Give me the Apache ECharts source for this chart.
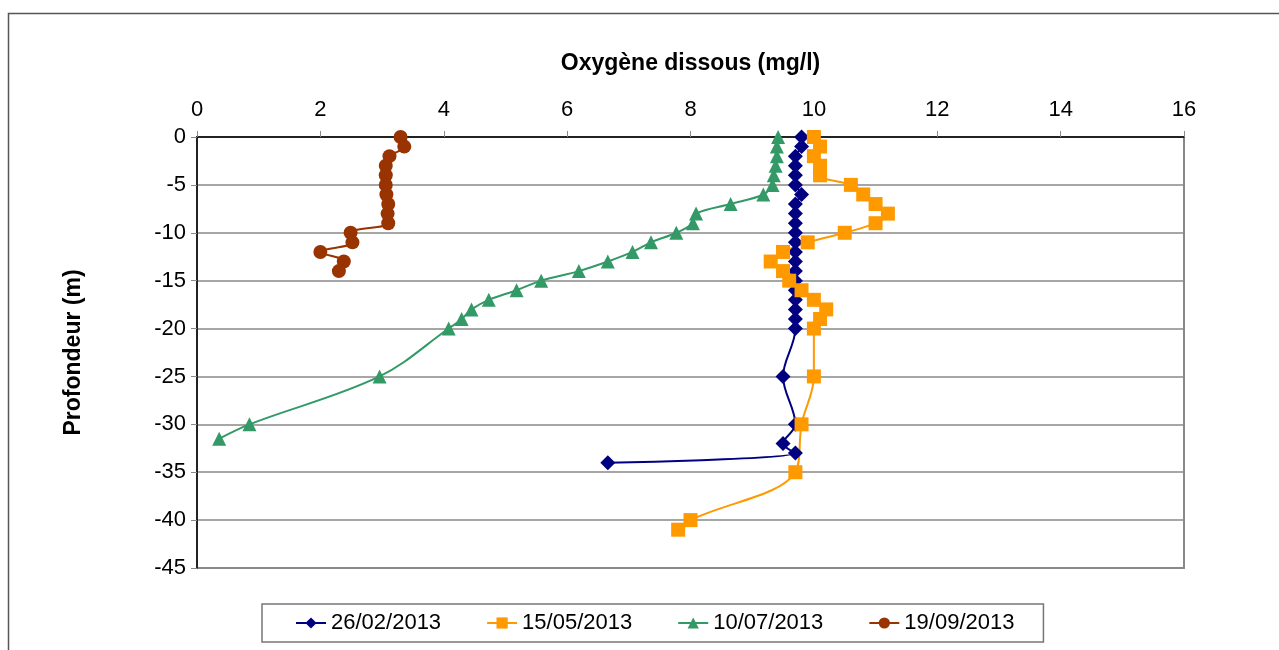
<!DOCTYPE html>
<html>
<head>
<meta charset="utf-8">
<script src="https://cdn.jsdelivr.net/npm/echarts@6/dist/echarts.min.js"></script>
<style>
  html, body { margin: 0; padding: 0; background: #fff; }
  #chart { width: 1279px; height: 650px; }
</style>
</head>
<body>
<div id="chart"></div>
<script>
// profondeurs (m) et oxygène dissous (mg/l) par campagne
const dates = ['26/02/2013', '15/05/2013', '10/07/2013', '19/09/2013'];

const prof0220 = [0, -1, -2, -3, -4, -5, -6, -7, -8, -9, -10, -11, -12, -13, -14, -15, -16, -17, -18, -19, -20, -25, -30, -32, -33, -34];
const oxy0226 = [9.8, 9.8, 9.7, 9.7, 9.7, 9.7, 9.8, 9.7, 9.7, 9.7, 9.7, 9.7, 9.7, 9.7, 9.7, 9.7, 9.7, 9.7, 9.7, 9.7, 9.7, 9.5, 9.7, 9.5, 9.7, 6.66];

const prof0515 = [0, -1, -2, -3, -4, -5, -6, -7, -8, -9, -10, -11, -12, -13, -14, -15, -16, -17, -18, -19, -20, -25, -30, -35, -40, -41];
const oxy0515 = [10.0, 10.1, 10.0, 10.1, 10.1, 10.6, 10.8, 11.0, 11.2, 11.0, 10.5, 9.9, 9.5, 9.3, 9.5, 9.6, 9.8, 10.0, 10.2, 10.1, 10.0, 10.0, 9.8, 9.7, 8.0, 7.8];

const prof0710 = [0, -1, -2, -3, -4, -5, -6, -7, -8, -9, -10, -11, -12, -13, -14, -15, -16, -17, -18, -19, -20, -25, -30, -31.5];
const oxy0710 = [9.42, 9.4, 9.4, 9.38, 9.35, 9.33, 9.18, 8.65, 8.09, 8.04, 7.77, 7.36, 7.06, 6.66, 6.19, 5.58, 5.18, 4.73, 4.45, 4.29, 4.08, 2.96, 0.85, 0.36];

const prof0919 = [0, -1, -2, -3, -4, -5, -6, -7, -8, -9, -10, -11, -12, -13, -14];
const oxy0919 = [3.3, 3.36, 3.12, 3.06, 3.06, 3.06, 3.07, 3.1, 3.09, 3.1, 2.49, 2.52, 2.0, 2.38, 2.3];

const xTicks = [0, 2, 4, 6, 8, 10, 12, 14, 16];
const yTicks = [0, -5, -10, -15, -20, -25, -30, -35, -40, -45];

const couleurs = ['#000080', '#FF9900', '#339966', '#993300'];
const symboles = ['diamond', 'rect', 'triangle', 'circle'];
const tailles = [15, 14, 14, 14];

function paires(xs, ys) {
  return xs.map((x, i) => [x, ys[i]]);
}

const series = [
  paires(oxy0226, prof0220),
  paires(oxy0515, prof0515),
  paires(oxy0710, prof0710),
  paires(oxy0919, prof0919)
].map((data, i) => ({
  name: dates[i],
  type: 'line',
  data: data,
  smooth: 0.35,
  symbol: symboles[i],
  symbolSize: tailles[i],
  color: couleurs[i],
  lineStyle: { width: 2, color: couleurs[i] },
  itemStyle: { color: couleurs[i] }
}));

const chart = echarts.init(document.getElementById('chart'));

const option = {
  animation: false,
  backgroundColor: '#fff',
  textStyle: { fontFamily: 'Liberation Sans, Arial, sans-serif' },
  graphic: [{
    type: 'rect',
    left: 6, top: 11,
    shape: { width: 1300, height: 700 },
    style: { fill: 'none', stroke: '#555', lineWidth: 1.5 },
    silent: true
  }],
  grid: {
    left: 197, top: 137, right: 95, bottom: 82,
    show: true, borderColor: '#888', borderWidth: 2, backgroundColor: 'transparent'
  },
  xAxis: {
    type: 'value',
    position: 'top',
    min: xTicks[0], max: xTicks[xTicks.length - 1], interval: 2,
    name: 'Oxygène dissous (mg/l)',
    nameLocation: 'middle',
    nameGap: 62,
    nameTextStyle: { fontSize: 23, fontWeight: 'bold', color: '#000' },
    axisLine: { show: true, onZero: false, lineStyle: { color: '#000', width: 1.5 } },
    axisTick: { show: true, inside: false, length: 6, lineStyle: { color: '#888' } },
    axisLabel: { fontSize: 22, color: '#000', margin: 16 },
    splitLine: { show: false }
  },
  yAxis: {
    type: 'value',
    min: yTicks[yTicks.length - 1], max: yTicks[0], interval: 5,
    name: 'Profondeur (m)',
    nameLocation: 'middle',
    nameGap: 112,
    nameRotate: 90,
    nameTextStyle: { fontSize: 23, fontWeight: 'bold', color: '#000' },
    axisLine: { show: true, onZero: false, lineStyle: { color: '#000', width: 1.5 } },
    axisTick: { show: true, inside: false, length: 6, lineStyle: { color: '#888' } },
    axisLabel: { fontSize: 22, color: '#000', margin: 11 },
    splitLine: { show: true, lineStyle: { color: '#888', width: 1.5 } }
  },
  legend: {
    data: dates,
    left: 262, top: 604,
    orient: 'horizontal',
    itemWidth: 30,
    itemHeight: 14,
    itemGap: 45,
    padding: [8, 29, 8, 33],
    borderColor: '#777',
    borderWidth: 1.5,
    textStyle: { fontSize: 22, color: '#000' }
  },
  series: series
};

chart.setOption(option);
</script>
</body>
</html>
